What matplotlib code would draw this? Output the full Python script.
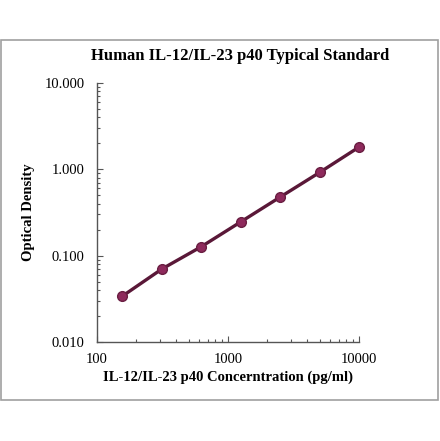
import numpy as np
import matplotlib
matplotlib.use("Agg")
import matplotlib.pyplot as plt
from matplotlib.patches import Rectangle
from matplotlib.ticker import FixedLocator, LogLocator, NullFormatter

# standard curve (concentration in pg/ml, optical density)
conc = [156.25, 312.5, 625, 1250, 2500, 5000, 10000]
od = [0.034, 0.070, 0.127, 0.246, 0.477, 0.920, 1.81]

x_ticks = [100, 1000, 10000]
x_labels = ["100", "1000", "10000"]
y_ticks = [0.01, 0.1, 1, 10]
y_labels = ["0.010", "0.100", "1.000", "10.000"]

plt.rcParams["font.family"] = ["Liberation Serif", "DejaVu Serif"]

fig = plt.figure(figsize=(4.40, 4.41), dpi=100)
# outer frame
fig.patches.append(Rectangle((0.002, 1 - 400 / 441), 0.994, 360 / 441,
                             transform=fig.transFigure, fill=False,
                             edgecolor="#a0a0a0", linewidth=1.2))

ax = fig.add_axes([97 / 440, 1 - 342 / 441, 262 / 440, 259 / 441])
ax.plot(conc, od, color="#5a1838", linewidth=2.4, marker="o",
        markersize=7, markerfacecolor="#8e2a5c", markeredgecolor="#6a1e42",
        markeredgewidth=1, clip_on=False)

ax.set_xscale("log")
ax.set_yscale("log")
ax.set_xlim(100, 10000)
ax.set_ylim(0.01, 10)

ax.xaxis.set_major_locator(FixedLocator(x_ticks))
ax.set_xticklabels(x_labels)
ax.xaxis.set_minor_locator(LogLocator(base=10, subs=np.arange(2, 10)))
ax.xaxis.set_minor_formatter(NullFormatter())
ax.yaxis.set_major_locator(FixedLocator(y_ticks))
ax.set_yticklabels(y_labels)
ax.yaxis.set_minor_locator(LogLocator(base=10, subs=np.arange(2, 10)))
ax.yaxis.set_minor_formatter(NullFormatter())

for side in ["top", "right"]:
    ax.spines[side].set_visible(False)
for side in ["left", "bottom"]:
    ax.spines[side].set_color("#555555")
    ax.spines[side].set_linewidth(1.0)

ax.tick_params(which="both", direction="in", color="#555555", width=0.8)
ax.tick_params(which="major", length=4, labelsize=10.5)
ax.tick_params(which="minor", length=2.5)
ax.tick_params(axis="y", which="major", pad=9)
ax.tick_params(axis="x", which="major", pad=8)

ax.set_xlabel("IL-12/IL-23 p40 Concerntration (pg/ml)", fontsize=10.5,
              fontweight="bold", labelpad=3)
ax.set_ylabel("Optical Density", fontsize=10.5, fontweight="bold", labelpad=7)
fig.text(0.545, 1 - 56 / 441, "Human IL-12/IL-23 p40 Typical Standard",
         ha="center", va="center", fontsize=12, fontweight="bold")

fig.savefig("out.png", dpi=100)
